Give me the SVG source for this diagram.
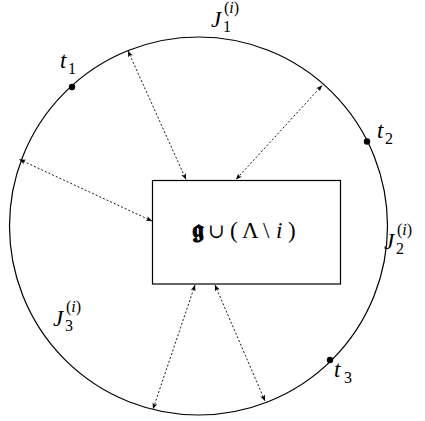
<svg xmlns="http://www.w3.org/2000/svg" width="425" height="421" viewBox="0 0 425 421">
<style>
.ln{fill:none;stroke:#000;stroke-width:1.2}
.ar{fill:none;stroke:#000;stroke-width:0.9;stroke-dasharray:2 2}
.m{font-family:"Liberation Serif","DejaVu Serif",serif;font-size:23px;fill:#000}
.it{font-style:italic}
.s{font-size:16px}
</style>
<defs>
<marker id="ah" viewBox="0 0 6 6" refX="6" refY="3" markerWidth="6" markerHeight="6" markerUnits="userSpaceOnUse" orient="auto-start-reverse">
<path d="M0,0.5 L6,3 L0,5.5 L1.5,3 Z" fill="#000"/>
</marker>
</defs>
<g id="circle">
<circle class="ln" cx="198.5" cy="226" r="189"/>
</g>
<g id="box">
<rect class="ln" x="152.5" y="180.5" width="188" height="103.5"/>
<text class="m" y="238" font-size="22"><tspan x="192" font-family="DejaVu Serif" font-weight="bold" font-size="26">𝖌</tspan><tspan x="208" font-size="20">∪</tspan><tspan x="230">(</tspan><tspan x="242">Λ</tspan><tspan x="263">\</tspan><tspan x="276" class="it">i</tspan><tspan x="288">)</tspan></text>
</g>
<g id="t1">
<circle cx="72" cy="87" r="3.2" fill="#000"/>
<text class="m" y="68"><tspan x="60" class="it">t</tspan><tspan x="68" dy="6" class="s">1</tspan></text>
</g>
<g id="t2">
<circle cx="367" cy="141.5" r="3.2" fill="#000"/>
<text class="m" y="138"><tspan x="377" class="it">t</tspan><tspan x="385" dy="6" class="s">2</tspan></text>
</g>
<g id="t3">
<circle cx="330" cy="360" r="3.2" fill="#000"/>
<text class="m" y="377"><tspan x="334" class="it">t</tspan><tspan x="344" dy="6" class="s">3</tspan></text>
</g>
<g id="J1">
<text class="m" y="27"><tspan x="211" class="it">J</tspan><tspan x="223" dy="5" class="s">1</tspan><tspan x="224" dy="-19" class="s">(<tspan class="it">i</tspan>)</tspan></text>
</g>
<g id="J2">
<text class="m" y="249"><tspan x="384" class="it">J</tspan><tspan x="396" dy="5" class="s">2</tspan><tspan x="397" dy="-19" class="s">(<tspan class="it">i</tspan>)</tspan></text>
</g>
<g id="J3">
<text class="m" y="326"><tspan x="53" class="it">J</tspan><tspan x="65" dy="5" class="s">3</tspan><tspan x="66" dy="-19" class="s">(<tspan class="it">i</tspan>)</tspan></text>
</g>
<g id="connectors">
<line class="ar" x1="128" y1="51" x2="186" y2="179.5" marker-start="url(#ah)" marker-end="url(#ah)"/>
<line class="ar" x1="322" y1="85.5" x2="236" y2="179.5" marker-start="url(#ah)" marker-end="url(#ah)"/>
<line class="ar" x1="19.5" y1="159.5" x2="152" y2="221" marker-start="url(#ah)" marker-end="url(#ah)"/>
<line class="ar" x1="195" y1="285" x2="153" y2="409" marker-start="url(#ah)" marker-end="url(#ah)"/>
<line class="ar" x1="215" y1="285" x2="265" y2="401" marker-start="url(#ah)" marker-end="url(#ah)"/>
</g>
</svg>
